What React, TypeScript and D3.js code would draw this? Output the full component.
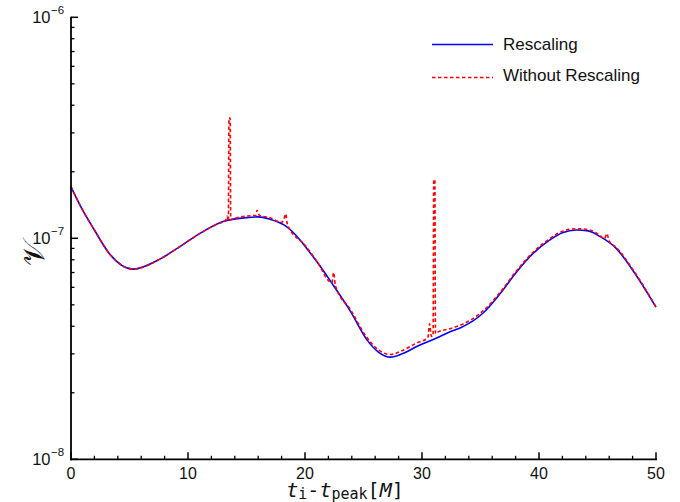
import React from "react";
import * as d3 from "d3";

const rescT = [0, 1, 2, 3.3, 5.3, 7.6, 9, 11, 13, 15, 16, 17, 18.2, 21, 22.4, 23.9, 25.3, 26.3, 27.3, 28.3, 29.5, 31.3, 32.4, 33.3, 35.2, 36.7, 38.1, 39.5, 40.9, 42, 43.2, 44.2, 45.2, 46.6, 48.1, 50];
const rescV = [1.71e-7, 1.34e-7, 1.09e-7, 8.5e-8, 7.25e-8, 8.05e-8, 8.95e-8, 1.05e-7, 1.19e-7, 1.24e-7, 1.25e-7, 1.22e-7, 1.15e-7, 7.85e-8, 6.15e-8, 4.66e-8, 3.47e-8, 3.05e-8, 2.9e-8, 3.0e-8, 3.23e-8, 3.55e-8, 3.78e-8, 3.94e-8, 4.58e-8, 5.64e-8, 7.06e-8, 8.55e-8, 9.82e-8, 1.06e-7, 1.09e-7, 1.08e-7, 1.02e-7, 9.0e-8, 7.06e-8, 4.88e-8];

const noRescT = [0, 1, 2, 3.3, 5.3, 7.6, 9, 11, 12.5, 13.2, 13.35, 13.45, 13.5, 13.6, 13.65, 14, 15, 15.8, 15.9, 16.1, 17, 18, 18.2, 18.35, 18.5, 20, 21, 22.3, 22.45, 22.6, 23.9, 25.3, 26.3, 27.3, 28.3, 29.5, 30.5, 30.65, 30.8, 30.95, 31.0, 31.1, 31.15, 31.3, 32.4, 33.3, 35.2, 36.7, 38.1, 39.5, 40.9, 42, 43.2, 44.2, 45.2, 45.6, 45.8, 46, 46.6, 48.1, 50];
const noRescV = [1.71e-7, 1.34e-7, 1.09e-7, 8.5e-8, 7.25e-8, 8.05e-8, 8.95e-8, 1.05e-7, 1.16e-7, 1.2e-7, 1.26e-7, 1.2e-7, 3.5e-7, 3.5e-7, 1.21e-7, 1.23e-7, 1.26e-7, 1.27e-7, 1.34e-7, 1.27e-7, 1.24e-7, 1.18e-7, 1.22e-7, 1.29e-7, 1.15e-7, 9.3e-8, 7.9e-8, 6.3e-8, 7.0e-8, 6.1e-8, 4.75e-8, 3.55e-8, 3.12e-8, 2.98e-8, 3.1e-8, 3.35e-8, 3.55e-8, 4.1e-8, 3.6e-8, 3.62e-8, 1.84e-7, 1.84e-7, 3.7e-8, 3.75e-8, 3.9e-8, 4.05e-8, 4.68e-8, 5.72e-8, 7.15e-8, 8.65e-8, 9.95e-8, 1.075e-7, 1.105e-7, 1.095e-7, 1.03e-7, 9.95e-8, 1.05e-7, 9.7e-8, 9.1e-8, 7.12e-8, 4.9e-8];

const xTicks = [0, 10, 20, 30, 40, 50];
const yExps = [-6, -7, -8];
const legendLabels = ["Rescaling", "Without Rescaling"];

export default function App() {
  const W = 680, H = 502;
  const left = 71, right = 656, top = 17.3, bottom = 459.3;
  const x = d3.scaleLinear().domain([0, 50]).range([left, right]);
  const y = d3.scaleLog().domain([1e-8, 1e-6]).range([bottom, top]);

  const line = d3.line<[number, number]>().x(d => x(d[0])).y(d => y(d[1])).curve(d3.curveMonotoneX);

  const blue = rescT.map((t, i) => [t, rescV[i]] as [number, number]);
  const red = noRescT.map((t, i) => [t, noRescV[i]] as [number, number]);

  const minorX = d3.range(0, 51, 2).filter(v => v % 10 !== 0);
  const minorY: number[] = [];
  for (const e of [-8, -7]) for (let k = 2; k <= 9; k++) minorY.push(k * Math.pow(10, e));

  const font = "'Liberation Sans', Arial, sans-serif";

  return (
    <svg width={W} height={H} style={{ position: "absolute", left: 0, top: 0, background: "#fff" }}>
      <rect width={W} height={H} fill="#fff" />
      <path d={line(blue) || ""} fill="none" stroke="#0000ff" strokeWidth={1.6} />
      <path d={line(red) || ""} fill="none" stroke="#ff0000" strokeWidth={1.6} strokeDasharray="3.5,2.5" />

      {/* axes */}
      <line x1={left} x2={left} y1={top - 0.5} y2={bottom + 1} stroke="#000" strokeWidth={1.8} />
      <line x1={left - 1} x2={right + 1} y1={bottom} y2={bottom} stroke="#000" strokeWidth={1.8} />

      {xTicks.map(t => (
        <g key={"xt" + t}>
          <line x1={x(t)} x2={x(t)} y1={bottom} y2={bottom - 7} stroke="#000" strokeWidth={1.5} />
          <text x={x(t)} y={bottom + 19.5} textAnchor="middle" fontFamily={font} fontSize={16} fill="#111">{t}</text>
        </g>
      ))}
      {minorX.map(t => (
        <line key={"xm" + t} x1={x(t)} x2={x(t)} y1={bottom} y2={bottom - 3.5} stroke="#000" strokeWidth={1.3} />
      ))}
      {yExps.map(e => (
        <g key={"ye" + e}>
          <line x1={left} x2={left + 7} y1={y(Math.pow(10, e))} y2={y(Math.pow(10, e))} stroke="#000" strokeWidth={1.5} />
          <text x={50.5} y={y(Math.pow(10, e)) + 5.5} textAnchor="end" fontFamily={font} fontSize={16.5} fill="#111">10</text>
          <text x={51} y={y(Math.pow(10, e)) - 3} textAnchor="start" fontFamily={font} fontSize={11.5} fill="#111">{"\u2212" + Math.abs(e)}</text>
        </g>
      ))}
      {minorY.map((v, i) => (
        <line key={"ym" + i} x1={left} x2={left + 3.5} y1={y(v)} y2={y(v)} stroke="#000" strokeWidth={1.3} />
      ))}

      {/* axis titles */}
      <text x={345} y={497} textAnchor="middle" fontFamily="'DejaVu Sans Mono', monospace" fontSize={20} fill="#111">
        <tspan fontStyle="italic">t</tspan>
        <tspan fontSize={15} dy={2}>i</tspan>
        <tspan dy={-2}>-</tspan>
        <tspan fontStyle="italic">t</tspan>
        <tspan fontSize={15} dy={2}>peak</tspan>
        <tspan dy={-2}>[</tspan>
        <tspan fontStyle="italic">M</tspan>
        <tspan>]</tspan>
      </text>
      <text transform="translate(44,253) rotate(-90)" textAnchor="middle" fontFamily="'DejaVu Serif', serif" fontSize={30} fill="#111">{"\uD835\uDCB1"}</text>

      {/* legend */}
      <line x1={432} x2={493} y1={44.5} y2={44.5} stroke="#0000ff" strokeWidth={1.6} />
      <text x={503} y={50} fontFamily={font} fontSize={17} fill="#111">{legendLabels[0]}</text>
      <line x1={432} x2={493} y1={77.5} y2={77.5} stroke="#ff0000" strokeWidth={1.6} strokeDasharray="3.5,2.5" />
      <text x={503} y={81} fontFamily={font} fontSize={17} fill="#111">{legendLabels[1]}</text>
    </svg>
  );
}
